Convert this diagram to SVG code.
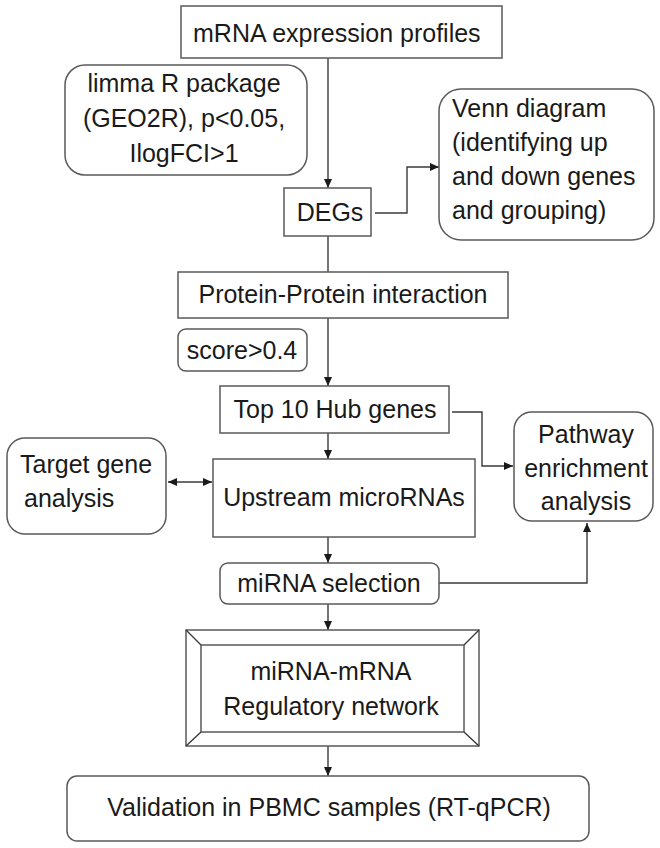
<svg xmlns="http://www.w3.org/2000/svg" width="660" height="848" viewBox="0 0 660 848">
<style>
  .box{fill:#fff;stroke:#5a5a5a;stroke-width:1.5}
  .t{font-family:"Liberation Sans",Arial,sans-serif;font-size:25px;fill:#1a1a1a}
  .c{text-anchor:middle}
  .ln{fill:none;stroke:#3a3a3a;stroke-width:1.4}
  .ar{marker-end:url(#ah)}
</style>
<defs>
  <marker id="ah" markerUnits="userSpaceOnUse" markerWidth="9" markerHeight="8" refX="9" refY="4" orient="auto-start-reverse">
    <path d="M0,0 L9,4 L0,8 z" fill="#1a1a1a"/>
  </marker>
</defs>
<rect width="660" height="848" fill="#fff"/>

<g id="connectors">
  <line class="ln ar" x1="328" y1="58" x2="328" y2="188"/>
  <path class="ln ar" d="M375,213 H407 V167 H439"/>
  <line class="ln" x1="328" y1="236" x2="328" y2="272"/>
  <line class="ln ar" x1="328" y1="318" x2="328" y2="386"/>
  <line class="ln ar" x1="328" y1="433" x2="328" y2="459"/>
  <path class="ln ar" d="M452,412 H482 V466 H513"/>
  <line class="ln ar" x1="168" y1="482" x2="212" y2="482" marker-start="url(#ah)"/>
  <line class="ln ar" x1="328" y1="537" x2="328" y2="563"/>
  <path class="ln ar" d="M439,583 H587 V523"/>
  <line class="ln ar" x1="328" y1="604" x2="328" y2="630"/>
  <line class="ln ar" x1="328" y1="746" x2="328" y2="776"/>
</g>

<g id="mrna">
  <rect class="box" x="181" y="6" width="321" height="52"/>
  <text class="t" x="193" y="42">mRNA expression profiles</text>
</g>

<g id="limma">
  <rect class="box" x="65" y="65" width="242" height="110" rx="20"/>
  <text class="t c" x="184" y="92">limma R package</text>
  <text class="t c" x="184" y="127">(GEO2R), p&lt;0.05,</text>
  <text class="t c" x="184" y="162">IlogFCI&gt;1</text>
</g>

<g id="degs">
  <rect class="box" x="284" y="188" width="87" height="48"/>
  <text class="t c" x="330" y="221">DEGs</text>
</g>

<g id="venn">
  <rect class="box" x="439" y="89" width="215" height="151" rx="22"/>
  <text class="t" x="452" y="117">Venn diagram</text>
  <text class="t" x="452" y="151">(identifying up</text>
  <text class="t" x="452" y="185">and down genes</text>
  <text class="t" x="452" y="219">and grouping)</text>
</g>

<g id="ppi">
  <rect class="box" x="178" y="272" width="330" height="46"/>
  <text class="t c" x="343" y="303">Protein-Protein interaction</text>
</g>

<g id="score">
  <rect class="box" x="178" y="329" width="129" height="42" rx="8"/>
  <text class="t c" x="242" y="359">score&gt;0.4</text>
</g>

<g id="hub">
  <rect class="box" x="220" y="386" width="229" height="47"/>
  <text class="t c" x="335" y="418">Top 10 Hub genes</text>
</g>

<g id="target">
  <rect class="box" x="7" y="438" width="159" height="96" rx="18"/>
  <text class="t" x="20" y="473">Target gene</text>
  <text class="t" x="24" y="507">analysis</text>
</g>

<g id="upstream">
  <rect class="box" x="213" y="459" width="262" height="78"/>
  <text class="t c" x="344" y="506">Upstream microRNAs</text>
</g>

<g id="pathway">
  <rect class="box" x="514" y="412" width="139" height="109" rx="18"/>
  <text class="t c" x="586" y="443">Pathway</text>
  <text class="t c" x="586" y="477">enrichment</text>
  <text class="t c" x="586" y="510">analysis</text>
</g>

<g id="selection">
  <rect class="box" x="220" y="563" width="219" height="41" rx="8"/>
  <text class="t c" x="329" y="592">miRNA selection</text>
</g>

<g id="network">
  <rect class="box" x="186" y="630" width="293" height="116"/>
  <rect class="box" x="201" y="645" width="263" height="87"/>
  <path class="ln" d="M186,630 L201,645 M479,630 L464,645 M186,746 L201,732 M479,746 L464,732" stroke="#5a5a5a"/>
  <text class="t c" x="331" y="680">miRNA-mRNA</text>
  <text class="t c" x="331" y="715">Regulatory network</text>
</g>

<g id="validation">
  <rect class="box" x="67" y="776" width="522" height="65" rx="10"/>
  <text class="t c" x="329" y="816">Validation in PBMC samples (RT-qPCR)</text>
</g>
</svg>
